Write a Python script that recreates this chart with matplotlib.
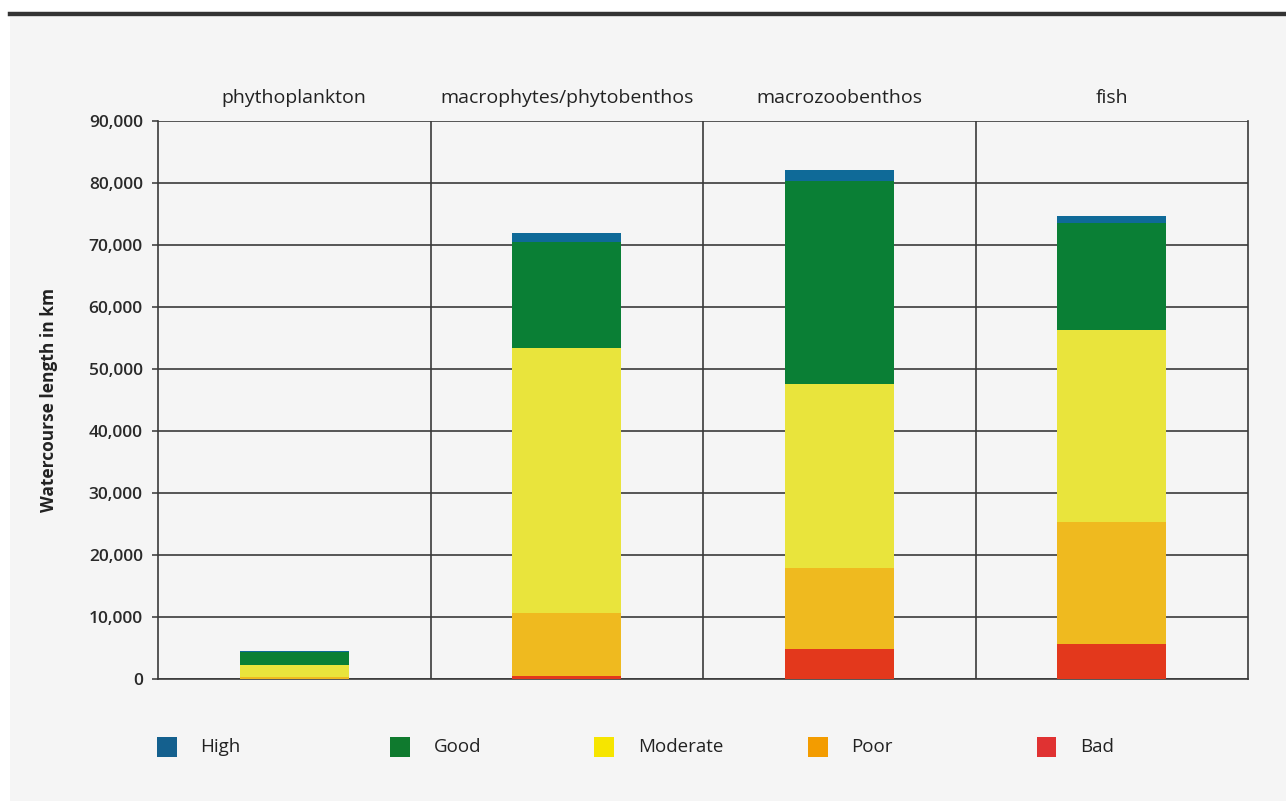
import matplotlib
matplotlib.use("Agg")
import matplotlib.pyplot as plt
import numpy as np
from matplotlib.patches import Rectangle
from matplotlib.lines import Line2D

# data (watercourse length in km)
categories = ["phythoplankton", "macrophytes/phytobenthos", "macrozoobenthos", "fish"]
classes = ["High", "Good", "Moderate", "Poor", "Bad"]
bad = [0, 500, 4800, 5600]
poor = [300, 10100, 13100, 19700]
moderate = [2000, 42800, 29700, 31000]
good = [2100, 17100, 32700, 17200]
high = [80, 1400, 1800, 1200]
yticks = np.arange(0, 90001, 10000)

bar_colors = {"Bad": "#e3381c", "Poor": "#efba1f", "Moderate": "#e9e43c",
              "Good": "#0a7f35", "High": "#0f6a98"}
legend_colors = {"High": "#14608e", "Good": "#0f7a2e", "Moderate": "#f6e500",
                 "Poor": "#f39c00", "Bad": "#e03232"}

plt.rcParams["font.family"] = ["Open Sans", "DejaVu Sans"]

fig = plt.figure(figsize=(12.86, 8.01), dpi=100)
fig.patch.set_facecolor("white")
fig.add_artist(Rectangle((0.008, 0), 0.992, 0.979, transform=fig.transFigure,
                         facecolor="#f5f5f5", edgecolor="none", zorder=0))
fig.add_artist(Line2D([0.008, 1], [0.982, 0.982], transform=fig.transFigure,
                      color="#333333", lw=3.2))

ax = fig.add_axes([0.1229, 0.1523, 0.8476, 0.6966])
ax.set_facecolor("none")

x = np.arange(len(categories))
width = 0.4
bottom = np.zeros(len(categories))
for name, vals in [("Bad", bad), ("Poor", poor), ("Moderate", moderate),
                   ("Good", good), ("High", high)]:
    ax.bar(x, vals, width, bottom=bottom, color=bar_colors[name], zorder=3)
    bottom += np.array(vals)

ax.set_xlim(-0.5, 3.5)
ax.set_ylim(0, 90000)
ax.set_yticks(yticks)
ax.set_yticklabels([f"{v:,}" for v in yticks], fontsize=12.5, color="#2a2a2a",
                   fontweight="semibold")
ax.tick_params(axis="y", length=4, width=1.2, color="#444444", pad=7)
ax.set_xticks([])
for yv in yticks:
    ax.axhline(yv, color="#3a3a3a", lw=1.2, zorder=1)
for xv in [0.5, 1.5, 2.5]:
    ax.axvline(xv, color="#3a3a3a", lw=1.2, zorder=1)
for side in ["left", "right", "bottom"]:
    ax.spines[side].set_color("#3a3a3a")
    ax.spines[side].set_linewidth(1.2)
ax.spines["top"].set_visible(False)

for i, c in enumerate(categories):
    ax.text(i, 93700, c, ha="center", va="center", fontsize=14,
            color="#222222", fontweight="medium")

ax.set_ylabel("Watercourse length in km", fontsize=12.5, fontweight="bold",
              color="#222222", labelpad=22)

# legend
xs = [0.122, 0.303, 0.462, 0.628, 0.806]
for xp, c in zip(xs, classes):
    fig.add_artist(Rectangle((xp, 0.055), 0.0155, 0.025,
                             transform=fig.transFigure,
                             facecolor=legend_colors[c], edgecolor="none"))
    fig.text(xp + 0.034, 0.0674, c, fontsize=13.5, color="#222222",
             va="center", ha="left", fontweight="medium")

plt.savefig("out.png", dpi=100)
